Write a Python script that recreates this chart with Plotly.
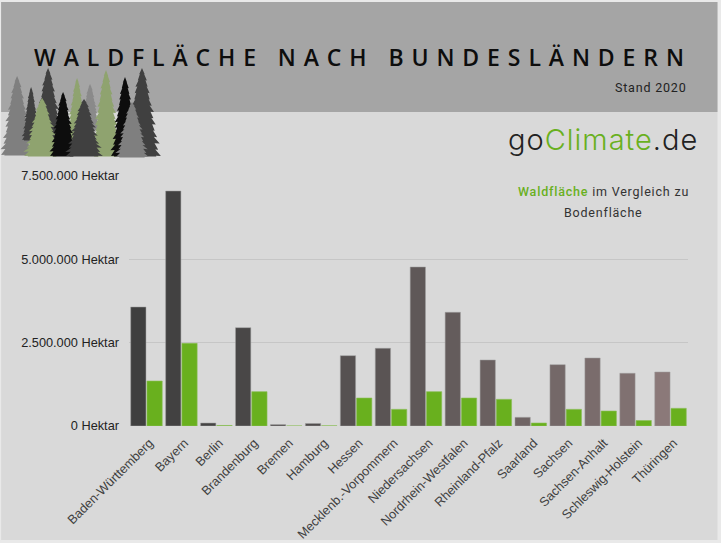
import plotly.graph_objects as go

laender = ["Baden-Württemberg","Bayern","Berlin","Brandenburg","Bremen","Hamburg","Hessen",
           "Mecklenb.-Vorpommern","Niedersachsen","Nordrhein-Westfalen","Rheinland-Pfalz",
           "Saarland","Sachsen","Sachsen-Anhalt","Schleswig-Holstein","Thüringen"]
bodenflaeche = [3570000,7050000,89000,2950000,42000,75000,2110000,2330000,4770000,3410000,1980000,260000,1840000,2040000,1580000,1620000]
waldflaeche = [1350000,2480000,16000,1030000,2000,6000,840000,500000,1030000,840000,800000,90000,500000,450000,165000,530000]
dark_colors = ["#3f3f3f","#424141","#454444","#494747","#4d4a4a","#514d4d","#565151","#5a5454",
               "#5f5858","#645c5c","#6a6060","#6f6464","#746868","#7a6c6c","#807171","#8b7979"]
tick_vals = [0,2500000,5000000,7500000]
tick_text = ["0 Hektar","2.500.000 Hektar","5.000.000 Hektar","7.500.000 Hektar"]

W,H = 721,543
L,R,T,B = 129,688.5,176,426
def px(x): return (x-L)/(R-L)
def py(y): return (B-y)/(B-T)

def rect(x0,y0,x1,y1,c):
    return dict(type="rect",xref="paper",yref="paper",x0=px(x0),x1=px(x1),y0=py(y1),y1=py(y0),
                fillcolor=c,line_width=0,layer="below")

def tree(cx,apex,base,hw,color):
    n = 14
    left,right = [],[]
    for i in range(1,n+1):
        f = i/n
        y = apex+(base-apex)*f
        w = hw*(f**0.72)
        wob = 1+0.1*(((i*7)%5)-2)/2
        right += [(cx+w*wob,y),(cx+w*0.78,y-0.3)]
        wob2 = 1+0.1*(((i*3)%5)-2)/2
        left += [(cx-w*wob2,y),(cx-w*0.78,y-0.3)]
    pts = [(cx,apex)]+right+[(cx+hw*0.8,base+0.5),(cx-hw*0.8,base+0.5)]+left[::-1]
    d = "M"+" L".join(f"{px(a):.5f},{py(b):.5f}" for a,b in pts)+" Z"
    return dict(type="path",xref="paper",yref="paper",path=d,fillcolor=color,line_width=0,layer="above")

gray,dark,black,green = "#7f7f7f","#404040","#0d0d0d","#8fa36f"
trees = [(17,76,155,16,gray),(31,87,140,9,dark),(48,68,150,16,dark),(77,78,142,11,green),
         (90,84,130,10,"#8a8a8a"),(106,70,156,15,green),(42,98,156,18,green),(63,92,156,13,black),
         (84,99,156,18,dark),(125,77,156,14,black),(142,68,156,18,dark),(132,102,157,16,gray)]

shapes = [rect(1,2,718,540,"#d9d9d9"),rect(1,2,718,112,"#a5a5a5")]+[tree(*t) for t in trees]

fig = go.Figure()
fig.add_bar(name="Bodenfläche",x=laender,y=bodenflaeche,marker=dict(color=dark_colors,line=dict(color="rgba(160,160,160,0.5)",width=1)))
fig.add_bar(name="Waldfläche",x=laender,y=waldflaeche,marker=dict(color="#69b01e",line=dict(color="rgba(140,190,90,0.6)",width=1)))

def sp(text,spacing,extra=""):
    return f'<span style="letter-spacing:{spacing}px;{extra}">{text}</span>'

def ann(text,x,y,size,color="#1a1a1a",family="Roboto",anchor="center",weight=400):
    return dict(text=text,xref="paper",yref="paper",x=px(x),y=py(y),
                showarrow=False,xanchor=anchor,yanchor="middle",
                font=dict(family=family,size=size,color=color,weight=weight))

GREEN = "color:#69b01e"
annotations = [
    ann(sp("WALDFLÄCHE NACH BUNDESLÄNDERN",7.9),363,57,23,"#0d0d0d","Open Sans",weight=600),
    ann(sp("Stand 2020",0.8),688,88,12.5,"#222222","Roboto",anchor="right"),
    ann(sp("go",1)+sp("Climate",1,GREEN)+sp(".de",1),603,139,29,"#222222","Inter",weight=300),
    ann(sp("Waldfläche",0.8,GREEN+";font-weight:500")+sp(" im Vergleich zu",0.8),603.5,191,12.5,"#333333","Roboto"),
    ann(sp("Bodenfläche",0.8),603.5,212,12.5,"#333333","Roboto"),
]

fig.update_layout(
    width=W,height=H,autosize=False,showlegend=False,
    margin=dict(l=L,r=W-R,t=T,b=H-B),
    paper_bgcolor="#e9e9e9",plot_bgcolor="rgba(0,0,0,0)",
    barmode="group",bargap=0.07,bargroupgap=0.06,
    shapes=shapes,annotations=annotations,
    font=dict(family="Liberation Sans",size=12,color="#333333"),
)
fig.update_xaxes(tickangle=-45,showgrid=False,showline=False,ticks="",tickfont=dict(size=12.75,color="#404040"),
                 fixedrange=True,automargin=False,ticklabelstandoff=6,ticklabelshift=3)
fig.update_yaxes(range=[0,7500000],tickvals=tick_vals,ticktext=tick_text,gridcolor="#c6c6c6",gridwidth=1,
                 showline=False,zeroline=False,ticks="",ticklen=0,tickfont=dict(size=12.75,color="#222222"),
                 automargin=False,ticklabelstandoff=9)

fig.write_html("out.html",post_script="document.body.style.margin='0';document.body.style.overflow='hidden';",
               config=dict(displayModeBar=False))
